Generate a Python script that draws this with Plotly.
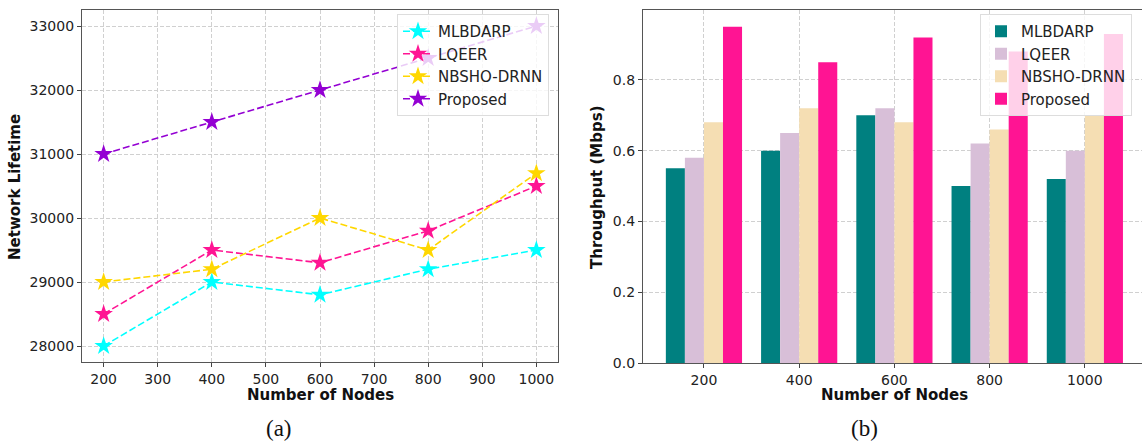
import plotly.graph_objects as go

W, H = 1142, 441

nodes = [200, 400, 600, 800, 1000]
series_names = ["MLBDARP", "LQEER", "NBSHO-DRNN", "Proposed"]

lifetime_mlbdarp = [28000, 29000, 28800, 29200, 29500]
lifetime_lqeer = [28500, 29500, 29300, 29800, 30500]
lifetime_nbsho = [29000, 29200, 30000, 29500, 30700]
lifetime_proposed = [31000, 31500, 32000, 32500, 33000]

thr_mlbdarp = [0.55, 0.60, 0.70, 0.50, 0.52]
thr_lqeer = [0.58, 0.65, 0.72, 0.62, 0.60]
thr_nbsho = [0.68, 0.72, 0.68, 0.66, 0.70]
thr_proposed = [0.95, 0.85, 0.92, 0.88, 0.93]

lifetime_ticks = [28000, 29000, 30000, 31000, 32000, 33000]
x_ticks_left = [200, 300, 400, 500, 600, 700, 800, 900, 1000]
thr_ticks = [0.0, 0.2, 0.4, 0.6, 0.8]

line_colors = ["#00FFFF", "#FF1493", "#FFD700", "#9400D3"]
bar_colors = ["#008080", "#D8BFD8", "#F5DEB3", "#FF1493"]

fig = go.Figure()

for name, vals, col in zip(series_names,
                           [lifetime_mlbdarp, lifetime_lqeer, lifetime_nbsho, lifetime_proposed],
                           line_colors):
    fig.add_trace(go.Scatter(
        x=nodes, y=vals, name=name, mode="lines+markers",
        line=dict(color=col, width=1.6, dash="7px,3px"),
        marker=dict(symbol="star", size=14, color=col, line=dict(width=0)),
        xaxis="x", yaxis="y", legend="legend"))

cats = [str(n) for n in nodes]
for name, vals, col in zip(series_names,
                           [thr_mlbdarp, thr_lqeer, thr_nbsho, thr_proposed],
                           bar_colors):
    fig.add_trace(go.Bar(
        x=cats, y=vals, name=name, marker=dict(color=col, line=dict(width=0)),
        xaxis="x2", yaxis="y2", legend="legend2"))

def px_x(p):
    return p / W

def px_y(p):
    return 1 - p / H

axis_common = dict(
    showline=True, mirror=True, linecolor="#555555", linewidth=1.3,
    ticks="outside", ticklen=4, tickcolor="#444444",
    tickfont=dict(family="DejaVu Sans", size=14, color="#222222"),
    showgrid=True, gridcolor="#d0d0d0", gridwidth=0.8, griddash="4px,2px",
    zeroline=False,
)

legend_common = dict(
    yanchor="top", y=px_y(14), xanchor="left",
    bgcolor="rgba(255,255,255,0.8)", bordercolor="#dddddd", borderwidth=1,
    font=dict(family="DejaVu Sans", size=15, color="#222222"),
    tracegroupgap=0, itemwidth=30,
)

fig.update_layout(
    width=W, height=H,
    margin=dict(l=0, r=0, t=0, b=0, autoexpand=False),
    paper_bgcolor="white", plot_bgcolor="white",
    barmode="group", bargap=0.2, bargroupgap=0,
    xaxis=dict(domain=[px_x(82), px_x(558)], range=[160, 1040],
               tickvals=x_ticks_left, anchor="y", **axis_common),
    yaxis=dict(domain=[px_y(362), px_y(10)], range=[27750, 33250],
               tickvals=lifetime_ticks, tickformat="d", anchor="x", **axis_common),
    xaxis2=dict(domain=[px_x(643), 1.0], range=[-0.64, 4.6], type="category",
                anchor="y2", **axis_common),
    yaxis2=dict(domain=[px_y(363), px_y(10)], range=[0, 0.9975],
                tickvals=thr_ticks, tickformat=".1f", anchor="x2", **axis_common),
    legend=dict(x=px_x(397), **legend_common),
    legend2=dict(x=px_x(980), **legend_common),
    showlegend=True,
)

ann_font = dict(family="DejaVu Sans", size=15, color="#111111")
fig.add_annotation(text="<b>Network Lifetime</b>", x=px_x(15), y=px_y(187),
                   xref="paper", yref="paper", textangle=-90, showarrow=False,
                   xanchor="center", yanchor="middle", font=ann_font)
fig.add_annotation(text="<b>Number of Nodes</b>", x=px_x(320), y=px_y(395),
                   xref="paper", yref="paper", showarrow=False,
                   xanchor="center", yanchor="middle", font=ann_font)
fig.add_annotation(text="<b>Throughput (Mbps)</b>", x=px_x(597), y=px_y(187),
                   xref="paper", yref="paper", textangle=-90, showarrow=False,
                   xanchor="center", yanchor="middle", font=ann_font)
fig.add_annotation(text="<b>Number of Nodes</b>", x=px_x(894), y=px_y(395),
                   xref="paper", yref="paper", showarrow=False,
                   xanchor="center", yanchor="middle", font=ann_font)

cap_font = dict(family="Liberation Serif", size=23, color="#111111")
fig.add_annotation(text="(a)", x=px_x(279), y=px_y(428), xref="paper", yref="paper",
                   showarrow=False, xanchor="center", yanchor="middle", font=cap_font)
fig.add_annotation(text="(b)", x=px_x(864), y=px_y(428), xref="paper", yref="paper",
                   showarrow=False, xanchor="center", yanchor="middle", font=cap_font)

fig.write_html("out.html")
